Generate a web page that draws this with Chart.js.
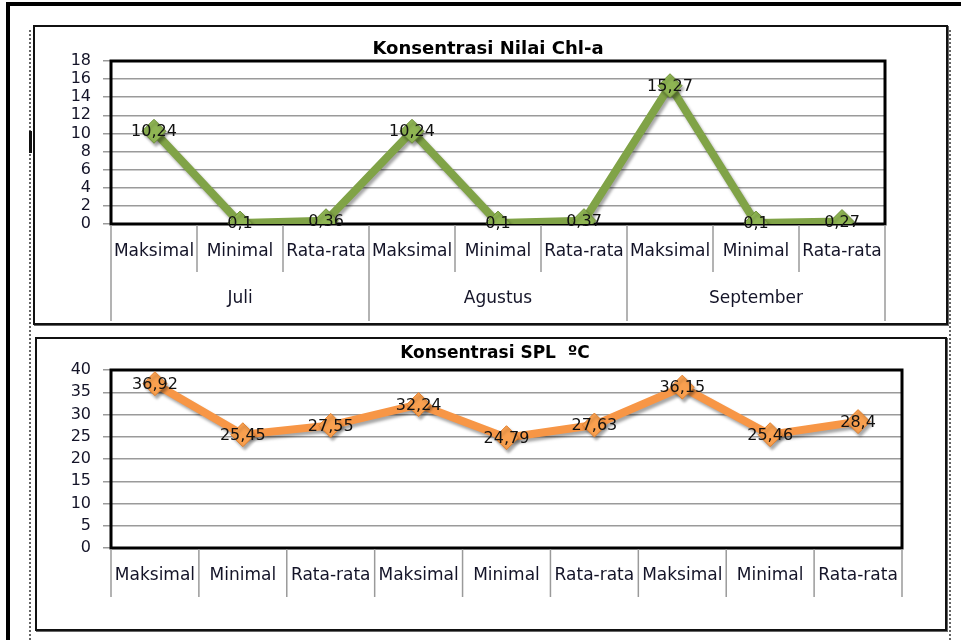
<!DOCTYPE html>
<html>
<head>
<meta charset="utf-8">
<script src="https://cdn.jsdelivr.net/npm/chart.js@4/dist/chart.umd.min.js"></script>
<style>
  html, body { margin: 0; padding: 0; background: #fff; }
  body { width: 961px; height: 640px; position: relative; overflow: hidden; }
  .abs { position: absolute; box-sizing: border-box; }
  .frameTop { left: 6px; top: 2px; width: 955px; height: 4px; background: #000; }
  .frameLeft { left: 6px; top: 2px; width: 4px; height: 638px; background: #000; }
  .dotV { width: 0; border-left: 2px dotted #666; }
  .dotH { height: 0; border-top: 1px dotted #555; }
  .box { border: 2px solid #111; box-shadow: 1px 1px 0 #666; background: #fff; }
  canvas { position: absolute; }
</style>
</head>
<body>
<div class="abs frameTop"></div>
<div class="abs frameLeft"></div>
<div class="abs dotV" style="left:29px; top:30px; height:610px;"></div>
<div class="abs dotV" style="left:949px; top:30px; height:610px;"></div>
<div class="abs dotH" style="left:33px; top:31px; width:914px;"></div>
<div class="abs" style="left:29px; top:131px; width:3px; height:22px; background:#111;"></div>

<div class="abs box" style="left:33px; top:25px; width:915px; height:300px;"></div>
<div class="abs box" style="left:35px; top:337px; width:912px; height:294px;"></div>

<canvas id="chl" width="911" height="296" style="left:35px; top:27px; width:911px; height:296px;"></canvas>
<canvas id="spl" width="908" height="290" style="left:37px; top:339px; width:908px; height:290px;"></canvas>

<script>
const categories = [
  "Maksimal", "Minimal", "Rata-rata",
  "Maksimal", "Minimal", "Rata-rata",
  "Maksimal", "Minimal", "Rata-rata",
];
const months = ["Juli", "Agustus", "September"];

const chlValues = [10.24, 0.1, 0.36, 10.24, 0.1, 0.37, 15.27, 0.1, 0.27];
const splValues = [36.92, 25.45, 27.55, 32.24, 24.79, 27.63, 36.15, 25.46, 28.4];

const chlTicks = { min: 0, max: 18, step: 2 };
const splTicks = { min: 0, max: 40, step: 5 };

const FONT = "'DejaVu Sans', sans-serif";
const TEXT = "#141428";
const GRID = "#9a9a9a";

// frame, dividers under the axis, value labels and title
const extrasPlugin = {
  id: "extras",
  beforeDatasetsDraw(chart) {
    const { ctx, chartArea: a } = chart;
    ctx.save();
    ctx.strokeStyle = "#000";
    ctx.lineWidth = 3;
    ctx.strokeRect(a.left, a.top, a.right - a.left, a.bottom - a.top);
    ctx.restore();

    // soft shadow under the line and markers
    ctx.save();
    ctx.shadowColor = "rgba(0,0,0,0.35)";
    ctx.shadowOffsetX = 2;
    ctx.shadowOffsetY = 3;
    ctx.shadowBlur = 3;
  },
  afterDatasetsDraw(chart, args, opts) {
    const { ctx, chartArea: a, scales } = chart;
    ctx.restore();

    const x = scales.x;
    const half = (x.getPixelForValue(1) - x.getPixelForValue(0)) / 2;

    ctx.save();
    ctx.strokeStyle = GRID;
    ctx.lineWidth = 1.5;
    categories.forEach((c, i) => {
      const left = x.getPixelForValue(i) - half;
      const long = opts.groups && i % 3 === 0;
      ctx.beginPath();
      ctx.moveTo(left, a.bottom + 1);
      ctx.lineTo(left, a.bottom + (long ? opts.groupLen : opts.divLen));
      ctx.stroke();
    });
    const last = x.getPixelForValue(categories.length - 1) + half;
    ctx.beginPath();
    ctx.moveTo(last, a.bottom + 1);
    ctx.lineTo(last, a.bottom + (opts.groups ? opts.groupLen : opts.divLen));
    ctx.stroke();

    ctx.fillStyle = TEXT;
    ctx.textAlign = "center";
    ctx.textBaseline = "middle";
    if (opts.groups) {
      ctx.font = "17px " + FONT;
      months.forEach((m, g) => {
        const cx = (x.getPixelForValue(g * 3) + x.getPixelForValue(g * 3 + 2)) / 2;
        ctx.fillText(m, cx, a.bottom + opts.groupY);
      });
    }

    // value labels, centred on the points
    ctx.fillStyle = "#111";
    ctx.font = "16px " + FONT;
    const meta = chart.getDatasetMeta(0);
    const data = chart.data.datasets[0].data;
    meta.data.forEach((pt, i) => {
      ctx.fillText(String(data[i]).replace(".", ","), pt.x, pt.y + 1);
    });

    ctx.font = "bold " + opts.titleSize + "px " + FONT;
    ctx.fillStyle = "#000";
    ctx.fillText(opts.title, opts.titleX, opts.titleY);
    ctx.restore();
  },
};

const makeConfig = (values, ticks, colors, layout, extras) => ({
  type: "line",
  data: {
    labels: categories,
    datasets: [
      {
        data: values,
        borderColor: colors.line,
        borderWidth: 8,
        pointStyle: "rectRot",
        pointRadius: 12,
        pointBackgroundColor: colors.point,
        pointBorderColor: colors.pointBorder,
        pointBorderWidth: 1,
        tension: 0,
      },
    ],
  },
  options: {
    responsive: false,
    animation: false,
    layout: { padding: { left: 0, right: layout.right, top: layout.top, bottom: 0 } },
    plugins: {
      legend: { display: false },
      tooltip: { enabled: false },
      extras,
    },
    scales: {
      x: {
        offset: true,
        grid: { display: false, drawTicks: false },
        border: { display: false },
        ticks: {
          padding: 17,
          color: TEXT,
          font: { family: FONT, size: 17 },
          maxRotation: 0,
          autoSkip: false,
        },
        afterFit(scale) {
          scale.height = layout.xHeight;
        },
      },
      y: {
        min: ticks.min,
        max: ticks.max,
        grid: { color: GRID, lineWidth: 1.5, tickLength: 8 },
        border: { display: false },
        ticks: {
          stepSize: ticks.step,
          autoSkip: false,
          padding: 12,
          color: TEXT,
          font: { family: FONT, size: 16 },
        },
        afterFit(scale) {
          scale.width = layout.yWidth;
        },
      },
    },
  },
  plugins: [extrasPlugin],
});

document.addEventListener("DOMContentLoaded", () => {
  new Chart(
    document.getElementById("chl"),
    makeConfig(
      chlValues,
      chlTicks,
      { line: "#80a347", point: "#8fb553", pointBorder: "#6d8f38" },
      { right: 61, top: 34, xHeight: 99, yWidth: 76 },
      {
        title: "Konsentrasi Nilai Chl-a",
        titleSize: 18,
        titleX: 453,
        titleY: 22,
        groups: true,
        divLen: 48,
        groupLen: 97,
        groupY: 75,
      },
    ),
  );

  new Chart(
    document.getElementById("spl"),
    makeConfig(
      splValues,
      splTicks,
      { line: "#f79646", point: "#f9a04f", pointBorder: "#e0802e" },
      { right: 43, top: 31, xHeight: 81, yWidth: 74 },
      {
        title: "Konsentrasi SPL  ºC",
        titleSize: 17,
        titleX: 458,
        titleY: 15,
        groups: false,
        divLen: 49,
        groupLen: 49,
        groupY: 0,
      },
    ),
  );
});
</script>
</body>
</html>
